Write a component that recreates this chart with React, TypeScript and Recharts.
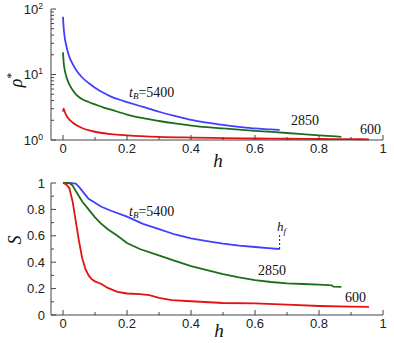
import { LineChart, Line, XAxis, YAxis, ReferenceLine } from "recharts";

// x ticks shared by both panels (minor ticks every 0.1)
const hTicks = [0, 0.1, 0.2, 0.3, 0.4, 0.5, 0.6, 0.7, 0.8, 0.9, 1];
const hLabels: Record<number, string> = { 0: "0", 0.2: "0.2", 0.4: "0.4", 0.6: "0.6", 0.8: "0.8", 1: "1" };

// top panel: rho* on a log axis
const rhoTicks = [1, 2, 3, 4, 5, 6, 7, 8, 9, 10, 20, 30, 40, 50, 60, 70, 80, 90, 100];
const rhoExp: Record<number, string> = { 1: "0", 10: "1", 100: "2" };

const rhoH5400 = [0, 0.002, 0.005, 0.01, 0.015, 0.02, 0.03, 0.042, 0.06, 0.08, 0.1, 0.125, 0.15, 0.175, 0.2, 0.25, 0.3, 0.35, 0.4, 0.45, 0.5, 0.55, 0.6, 0.65, 0.677];
const rho5400 = [76, 52, 38, 28, 22, 18.5, 14.5, 11.5, 9.0, 7.4, 6.3, 5.3, 4.6, 4.15, 3.8, 3.2, 2.7, 2.33, 2.03, 1.84, 1.7, 1.59, 1.5, 1.45, 1.42];

const rhoH2850 = [0, 0.002, 0.005, 0.01, 0.015, 0.02, 0.03, 0.042, 0.06, 0.08, 0.1, 0.125, 0.15, 0.2, 0.25, 0.3, 0.35, 0.4, 0.45, 0.5, 0.6, 0.7, 0.8, 0.87];
const rho2850 = [21.8, 15.5, 12, 9.5, 8.0, 7.0, 5.8, 4.9, 4.2, 3.8, 3.5, 3.15, 2.9, 2.45, 2.15, 1.95, 1.79, 1.66, 1.57, 1.5, 1.38, 1.28, 1.18, 1.12];

const rhoH600 = [0, 0.002, 0.006, 0.012, 0.02, 0.03, 0.045, 0.063, 0.085, 0.116, 0.15, 0.2, 0.3, 0.4, 0.5, 0.6, 0.7, 0.8, 0.9, 0.956];
const rho600 = [2.7, 3.0, 2.65, 2.3, 2.05, 1.85, 1.65, 1.5, 1.39, 1.29, 1.23, 1.18, 1.12, 1.09, 1.07, 1.055, 1.045, 1.035, 1.03, 1.025];

// bottom panel: S
const sTicks = [0, 0.1, 0.2, 0.3, 0.4, 0.5, 0.6, 0.7, 0.8, 0.9, 1];
const sLabels: Record<number, string> = { 0: "0", 0.2: "0.2", 0.4: "0.4", 0.6: "0.6", 0.8: "0.8", 1: "1" };

const sH5400 = [0, 0.02, 0.04, 0.05, 0.06, 0.07, 0.08, 0.1, 0.12, 0.15, 0.2, 0.25, 0.3, 0.35, 0.4, 0.45, 0.5, 0.55, 0.6, 0.65, 0.677];
const s5400 = [1, 1, 0.995, 0.97, 0.94, 0.91, 0.88, 0.85, 0.82, 0.79, 0.745, 0.69, 0.65, 0.61, 0.58, 0.56, 0.54, 0.525, 0.515, 0.505, 0.5];

const sH2850 = [0, 0.02, 0.03, 0.04, 0.05, 0.06, 0.08, 0.1, 0.12, 0.14, 0.17, 0.2, 0.24, 0.29, 0.35, 0.4, 0.45, 0.5, 0.55, 0.6, 0.65, 0.7, 0.75, 0.8, 0.84, 0.845, 0.87];
const s2850 = [1, 1, 0.98, 0.94, 0.9, 0.86, 0.8, 0.74, 0.69, 0.65, 0.6, 0.545, 0.5, 0.46, 0.41, 0.37, 0.34, 0.31, 0.285, 0.265, 0.25, 0.24, 0.235, 0.23, 0.225, 0.215, 0.213];

const sH600 = [0, 0.01, 0.02, 0.03, 0.04, 0.05, 0.06, 0.07, 0.08, 0.09, 0.1, 0.12, 0.14, 0.17, 0.2, 0.24, 0.27, 0.3, 0.34, 0.4, 0.5, 0.6, 0.7, 0.8, 0.9, 0.956];
const s600 = [1, 0.99, 0.96, 0.86, 0.71, 0.56, 0.43, 0.35, 0.3, 0.27, 0.255, 0.235, 0.205, 0.175, 0.163, 0.158, 0.15, 0.13, 0.112, 0.104, 0.091, 0.088, 0.078, 0.068, 0.063, 0.061];

const hf = 0.677;

const BLUE = "#3f3fff";
const GREEN = "#1c6e1c";
const RED = "#e01414";
const AXIS = "#444";
const SANS = "'Liberation Sans', Arial, sans-serif";
const SERIF = "'Liberation Serif', 'Times New Roman', serif";

const toPts = (xs: number[], ys: number[]) => xs.map((h, i) => ({ h, v: ys[i] }));

function XTick(props: any) {
  const { x, y, payload } = props;
  const label = hLabels[payload.value];
  return (
    <g>
      <line x1={x} y1={y} x2={x} y2={y - (label ? 5 : 3)} stroke={AXIS} strokeWidth={1} />
      {label && (
        <text x={x} y={y + 13} textAnchor="middle" fontFamily={SANS} fontSize={13} fill="#222">
          {label}
        </text>
      )}
    </g>
  );
}

function LogTick(props: any) {
  const { x, y, payload } = props;
  const exp = rhoExp[payload.value];
  return (
    <g>
      <line x1={x} y1={y} x2={x + (exp ? 5 : 3)} y2={y} stroke={AXIS} strokeWidth={1} />
      {exp && (
        <text x={x - 8} y={y + 4.5} textAnchor="end" fontFamily={SANS} fontSize={13} fill="#222">
          10<tspan dy={-5} fontSize={8.5}>{exp}</tspan>
        </text>
      )}
    </g>
  );
}

function STick(props: any) {
  const { x, y, payload } = props;
  const label = sLabels[payload.value];
  return (
    <g>
      <line x1={x} y1={y} x2={x + (label ? 5 : 3)} y2={y} stroke={AXIS} strokeWidth={1} />
      {label && (
        <text x={x - 6} y={y + 4.5} textAnchor="end" fontFamily={SANS} fontSize={13} fill="#222">
          {label}
        </text>
      )}
    </g>
  );
}

const lineProps = { dataKey: "v", dot: false, strokeWidth: 1.8, isAnimationActive: false };

export default function App() {
  return (
    <div style={{ position: "absolute", left: 0, top: 0, width: 394, height: 343, background: "#fff" }}>
      <div style={{ position: "absolute", left: 0, top: 0 }}>
        <LineChart width={394} height={166} margin={{ top: 9, right: 11, bottom: 0, left: 0 }}>
          <XAxis
            type="number"
            dataKey="h"
            domain={[-0.0375, 1]}
            ticks={hTicks}
            interval={0}
            tick={(p: any) => <XTick {...p} />}
            tickLine={false}
            tickSize={0}
            tickMargin={0}
            height={26}
            axisLine={{ stroke: AXIS }}
          />
          <YAxis
            scale="log"
            domain={[1, 100]}
            ticks={rhoTicks}
            interval={0}
            tick={(p: any) => <LogTick {...p} />}
            tickLine={false}
            tickSize={0}
            tickMargin={0}
            width={51}
            axisLine={{ stroke: AXIS }}
          />
          <Line {...lineProps} data={toPts(rhoH5400, rho5400)} type="monotone" stroke={BLUE} />
          <Line {...lineProps} data={toPts(rhoH2850, rho2850)} type="monotone" stroke={GREEN} />
          <Line {...lineProps} data={toPts(rhoH600, rho600)} type="monotone" stroke={RED} />
        </LineChart>
      </div>
      <div style={{ position: "absolute", left: 0, top: 170 }}>
        <LineChart width={394} height={173} margin={{ top: 13, right: 11, bottom: 0, left: 0 }}>
          <XAxis
            type="number"
            dataKey="h"
            domain={[-0.0375, 1]}
            ticks={hTicks}
            interval={0}
            tick={(p: any) => <XTick {...p} />}
            tickLine={false}
            tickSize={0}
            tickMargin={0}
            height={28}
            axisLine={{ stroke: AXIS }}
          />
          <YAxis
            type="number"
            domain={[0, 1]}
            ticks={sTicks}
            interval={0}
            tick={(p: any) => <STick {...p} />}
            tickLine={false}
            tickSize={0}
            tickMargin={0}
            width={51}
            axisLine={{ stroke: AXIS }}
          />
          <Line {...lineProps} data={toPts(sH5400, s5400)} type="linear" stroke={BLUE} />
          <Line {...lineProps} data={toPts(sH2850, s2850)} type="linear" stroke={GREEN} />
          <Line {...lineProps} data={toPts(sH600, s600)} type="linear" stroke={RED} />
          <ReferenceLine
            segment={[{ x: hf, y: 0.5 }, { x: hf, y: 0.61 }]}
            stroke="#222"
            strokeWidth={1}
            strokeDasharray="2 2"
          />
        </LineChart>
      </div>
      <svg width={394} height={343} style={{ position: "absolute", left: 0, top: 0, pointerEvents: "none" }}>
        <g fontFamily={SERIF} fill="#111">
          {/* axis titles */}
          <text transform="translate(22,80) rotate(-90)" textAnchor="middle" fontSize={18} fontStyle="italic">
            ρ<tspan dy={-7} fontSize={12} fontStyle="normal">*</tspan>
          </text>
          <text x={218} y={167} textAnchor="middle" fontSize={19} fontStyle="italic">h</text>
          <text transform="translate(21,240) rotate(-90)" textAnchor="middle" fontSize={18} fontStyle="italic">S</text>
          <text x={219} y={337} textAnchor="middle" fontSize={19} fontStyle="italic">h</text>

          {/* top annotations */}
          <text x={129} y={97} fontSize={14}>
            <tspan fontStyle="italic">t</tspan>
            <tspan fontStyle="italic" fontSize={9} dy={2}>B</tspan>
            <tspan dy={-2}>=5400</tspan>
          </text>
          <text x={291} y={125} fontSize={14}>2850</text>
          <text x={360} y={134} fontSize={14}>600</text>

          {/* bottom annotations */}
          <text x={129} y={216} fontSize={14}>
            <tspan fontStyle="italic">t</tspan>
            <tspan fontStyle="italic" fontSize={9} dy={2}>B</tspan>
            <tspan dy={-2}>=5400</tspan>
          </text>
          <text x={277} y={231} fontSize={13} fontStyle="italic">
            h<tspan fontSize={9} dy={3}>f</tspan>
          </text>
          <text x={258} y={275} fontSize={14}>2850</text>
          <text x={345} y={302} fontSize={14}>600</text>
        </g>
      </svg>
    </div>
  );
}
